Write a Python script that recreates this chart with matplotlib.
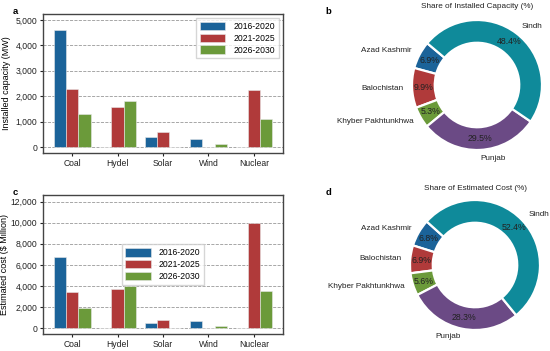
import numpy as np
import matplotlib
matplotlib.use("Agg")
import matplotlib.pyplot as plt

plt.rcParams['font.family'] = ['Liberation Sans', 'DejaVu Sans']
plt.rcParams['font.size'] = 6.2

# ---- data ----
sources = ["Coal", "Hydel", "Solar", "Wind", "Nuclear"]
periods = ["2016-2020", "2021-2025", "2026-2030"]
capacity = {
    "2016-2020": [4620, 0, 400, 300, 0],
    "2021-2025": [2270, 1580, 600, 0, 2230],
    "2026-2030": [1310, 1820, 0, 100, 1090],
}
cost = {
    "2016-2020": [6720, 0, 500, 650, 0],
    "2021-2025": [3450, 3720, 750, 0, 10000],
    "2026-2030": [1900, 4000, 0, 200, 3500],
}
regions = ["Azad Kashmir", "Balochistan", "Khyber Pakhtunkhwa", "Punjab", "Sindh"]
share_capacity = [6.9, 9.9, 5.3, 29.5, 48.4]
share_cost = [6.8, 6.9, 5.6, 28.3, 52.4]

bar_colors = ["#1b6399", "#b03a3a", "#6b9a3a"]
pie_colors = ["#1b6399", "#b03a3a", "#6b9a3a", "#6b4a85", "#0f8a9a"]

W, H = 550, 351
fig = plt.figure(figsize=(W / 100, H / 100), dpi=100)


def bar_panel(ax, data, ylabel, ylim, yticks, legend_loc, lpad):
    x = np.arange(len(sources))
    w = 0.27
    for i, p in enumerate(periods):
        ax.bar(x + (i - 1) * w, data[p], w, color=bar_colors[i], label=p,
               edgecolor="#e8e8e8", linewidth=0.4, zorder=3)
    ax.set_xticks(x)
    ax.set_xticklabels(sources)
    ax.set_xlim(-0.64, 4.64)
    ax.set_ylim(*ylim)
    ax.set_yticks(yticks)
    ax.set_yticklabels(["{:,}".format(v) for v in yticks])
    ax.set_ylabel(ylabel, fontsize=6.5, labelpad=lpad)
    ax.yaxis.grid(True, linestyle="--", color="#999999", linewidth=0.6, zorder=0)
    ax.tick_params(length=2.5, width=0.8, pad=1.5, colors="#222222")
    for s in ax.spines.values():
        s.set_color("#444444")
        s.set_linewidth(1.0)
    ax.legend(loc=legend_loc, fontsize=6.2, handlelength=3.0, handleheight=1.1,
              fancybox=False, edgecolor="#cccccc", borderpad=0.45, labelspacing=0.3,
              handletextpad=0.9)


def pie_panel(ax, vals, start, title, tx, ty):
    ax.pie(vals, labels=regions, colors=pie_colors, startangle=start,
           counterclock=True, autopct="%.1f%%", pctdistance=0.83,
           labeldistance=1.13, radius=1.0,
           wedgeprops=dict(width=0.35, edgecolor="white", linewidth=1.6),
           textprops=dict(fontsize=5.9, color="#222222"))
    for t in ax.texts:
        if t.get_text().endswith("%"):
            t.set_fontsize(6.3)
    ax.set_xlim(-1.25, 1.25)
    ax.set_ylim(-1.25, 1.25)
    ax.set_aspect("equal")
    fig.text(tx, ty, title, ha="center", va="center", fontsize=5.9, color="#222222")


ax_a = fig.add_axes([43 / W, 1 - 153 / H, 240 / W, 139 / H])
bar_panel(ax_a, capacity, "Installed capacity (MW)", (-236, 5236),
          [0, 1000, 2000, 3000, 4000, 5000], "upper right", 3)

ax_c = fig.add_axes([43 / W, 1 - 334 / H, 240 / W, 139 / H])
bar_panel(ax_c, cost, "Estimated cost ($ Million)", (-560, 12620),
          [0, 2000, 4000, 6000, 8000, 10000, 12000], "center", 1)

R = 65 * 1.25
ax_b = fig.add_axes([(477 - R) / W, 1 - (85 + R) / H, 2 * R / W, 2 * R / H])
pie_panel(ax_b, share_capacity, 140, "Share of Installed Capacity (%)", 477 / W, 1 - 7 / H)

ax_d = fig.add_axes([(475 - R) / W, 1 - (265 + R) / H, 2 * R / W, 2 * R / H])
pie_panel(ax_d, share_cost, 138, "Share of Estimated Cost (%)", 475 / W, 1 - 188 / H)

for lab, x, y in [("a", 15, 12), ("b", 328, 12), ("c", 15, 192), ("d", 328, 192)]:
    fig.text(x / W, 1 - y / H, lab, fontsize=6.8, fontweight="bold", ha="center", va="center")

fig.savefig("out.png", dpi=100)
